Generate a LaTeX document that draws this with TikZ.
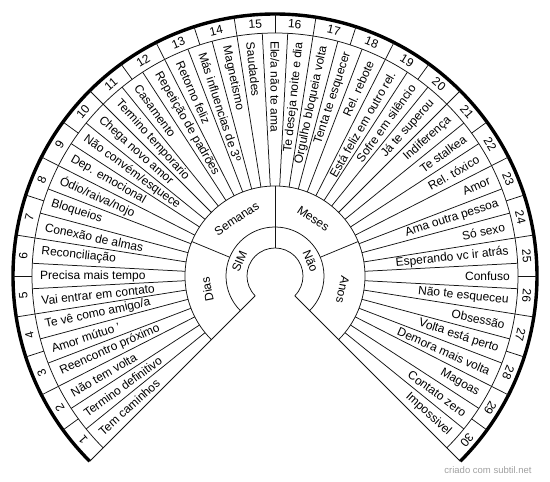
\documentclass[tikz,border=0pt]{standalone}
\usepackage{fontspec}
\setmainfont{Liberation Sans}
\definecolor{PDink}{RGB}{20,20,20}
\definecolor{PDgray}{RGB}{160,160,160}
\tikzset{
  spoke/.style={draw=PDink,line width=0.75pt},
  rim/.style={draw=black,line width=3.4pt},
  answer/.style={font=\fontsize{12}{14}\selectfont,inner sep=0pt,text=black},
  numlbl/.style={font=\fontsize{12}{14}\selectfont,inner sep=0pt,text=black},
  ringlbl/.style={font=\fontsize{12}{14}\selectfont,inner sep=0pt,text=black},
  credit/.style={font=\fontsize{9.5}{11}\selectfont,text=PDgray,inner sep=0pt}
}
\begin{document}
\begin{tikzpicture}[x=1pt,y=1pt]
  \useasboundingbox (-275,-206) rectangle (275,276);
  % rings
  \foreach \r in {28,49,90,243}
    \draw[spoke] (225:\r) arc[start angle=225,end angle=-45,radius=\r];
  \draw[rim] (225:262) arc[start angle=225,end angle=-45,radius=262];
  % borders of the fan
  \draw[spoke] (225:28) -- (225:262);
  \draw[spoke] (-45:28) -- (-45:262);
  \draw[spoke] (90:28) -- (90:90);
  \draw[spoke] (157.5:49) -- (157.5:90);
  \draw[spoke] (22.5:49) -- (22.5:90);
  % 45 answer sectors
  \foreach \k in {1,...,44}
    \draw[spoke] (225-6*\k:90) -- (225-6*\k:243);
  % 30 number sectors
  \foreach \k in {1,...,29}
    \draw[spoke] (225-9*\k:243) -- (225-9*\k:262);
  % inner labels
  \node[ringlbl,rotate=67.5] (sim) at (157.5:38.5) {SIM};
  \node[ringlbl,rotate=-67.5] (nao) at (22.5:38.5) {Não};
  \node[ringlbl,rotate=101.25] (dias) at (191.25:69) {Dias};
  \node[ringlbl,rotate=33.75] (semanas) at (123.75:69) {Semanas};
  \node[ringlbl,rotate=-33.75] (meses) at (56.25:69) {Meses};
  \node[ringlbl,rotate=-101.25] (anos) at (-11.25:69) {Anos};
  % answers
  \foreach \txt [count=\k] in {Tem caminhos,Termino definitivo,Não tem volta,
      Reencontro próximo,Amor mútuo ',Te vê como amigo/a,Vai entrar em contato,
      Precisa mais tempo,Reconciliação,Conexão de almas,Bloqueios,Ódio/raiva/nojo,
      Dep. emocional,Não convém/esquece,Chega novo amor,Termino temporario,
      Casamento,Repetição de padrões,Retorno feliz,Más influencias de 3º,
      Magnetismo,Saudades,Ele/a não te ama,Te deseja noite e dia,
      Orgulho bloqueia volta,Tenta te esquecer,Rel. rebote,
      Está feliz em outro rel.,Sofre em silêncio,Já te superou,Indiferença,
      Te stalkea,Rel. tóxico,Amor,Ama outra pessoa,Só sexo,Esperando vc ir atrás,
      Confuso,Não te esqueceu,Obsessão,Volta está perto,Demora mais volta,
      Magoas,Contato zero,Impossivel}{
    \pgfmathtruncatemacro\ang{228-6*\k}
    \ifnum\ang<90
      \node[answer,anchor=east,rotate=\ang] (t\k) at (\ang:235) {\txt};
    \else
      \node[answer,anchor=west,rotate=\ang-180] (t\k) at (\ang:235) {\txt};
    \fi
  }
  % numbers
  \foreach \k in {1,...,30}{
    \pgfmathsetmacro\ang{229.5-9*\k}
    \node[numlbl,rotate=\ang-90] (n\k) at (\ang:252.5) {\k};
  }
  \node[credit] (credit) at (213,-194) {criado com subtil.net};
\end{tikzpicture}
\end{document}
